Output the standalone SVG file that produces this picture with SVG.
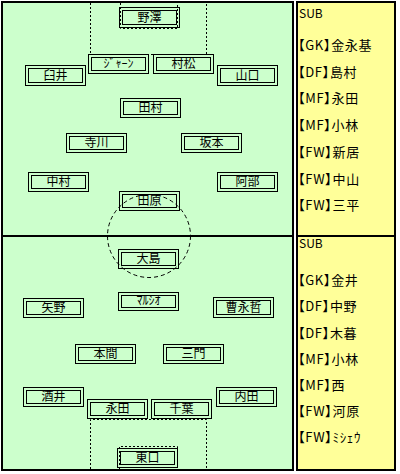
<svg xmlns="http://www.w3.org/2000/svg" width="400" height="474" viewBox="0 0 400 474">
<style>
.t{font-family:"Noto Sans CJK JP","Noto Sans",sans-serif;font-size:12px;fill:#000}
.s{font-feature-settings:"palt";font-size:13px;letter-spacing:0.7px}
.h{font-size:12px;letter-spacing:0}
.n{text-anchor:middle}
.o{fill:none;stroke:#000;stroke-width:1}
.d{fill:none;stroke:#000;stroke-width:1;stroke-dasharray:2 2}
.c{fill:none;stroke:#000;stroke-width:1;stroke-dasharray:4 3}
</style>
<rect x="0" y="0" width="400" height="474" fill="#fff"/>
<g id="field">
<rect x="2" y="2" width="291" height="468" fill="#ccffcc" stroke="#000" stroke-width="2"/>
<line x1="2" y1="236" x2="293" y2="236" stroke="#000" stroke-width="2"/>
</g>
<g id="connectors">
<polyline class="d" points="90.5,3 90.5,54.5 206.5,54.5 206.5,3"/>
<polyline class="d" points="120.5,3 120.5,28.5 177.5,28.5 177.5,3"/>
<polyline class="d" points="90.5,469 90.5,419.5 206.5,419.5 206.5,469"/>
<polyline class="d" points="119.5,469 119.5,446.5 177.5,446.5 177.5,469"/>
<circle class="c" cx="149" cy="236" r="41.5"/>
</g>
<g id="subs">
<rect x="297" y="2" width="98" height="468" fill="#ffff99" stroke="#000" stroke-width="2"/>
<line x1="297" y1="236" x2="395" y2="236" stroke="#000" stroke-width="2"/>
<g class="t s">
<text class="h" x="299" y="18">SUB</text>
<text x="298" y="50">【GK】金永基</text>
<text x="298" y="77">【DF】島村</text>
<text x="298" y="103">【MF】永田</text>
<text x="298" y="130">【MF】小林</text>
<text x="298" y="157">【FW】新居</text>
<text x="298" y="184">【FW】中山</text>
<text x="298" y="210">【FW】三平</text>
<text class="h" x="299" y="248">SUB</text>
<text x="298" y="285">【GK】金井</text>
<text x="298" y="311">【DF】中野</text>
<text x="298" y="338">【DF】木暮</text>
<text x="298" y="364">【MF】小林</text>
<text x="298" y="390">【MF】西</text>
<text x="298" y="416">【FW】河原</text>
<text x="298" y="442">【FW】ﾐｼｪｳ</text>
</g>
</g>
<g id="n-nozawa"><rect class="o" x="119.5" y="7.5" width="60" height="20"/><rect class="o" x="122.5" y="10.5" width="54" height="14"/><text class="t n" x="149.5" y="22">野澤</text></g>
<g id="n-jean"><rect class="o" x="88.5" y="54.5" width="60" height="19"/><rect class="o" x="91.5" y="57.5" width="54" height="13"/><text class="t n" x="118.5" y="68">ｼﾞｬｰﾝ</text></g>
<g id="n-muramatsu"><rect class="o" x="153.5" y="54.5" width="60" height="19"/><rect class="o" x="156.5" y="57.5" width="54" height="13"/><text class="t n" x="183.5" y="68">村松</text></g>
<g id="n-usui"><rect class="o" x="25.5" y="65.5" width="60" height="20"/><rect class="o" x="28.5" y="68.5" width="54" height="14"/><text class="t n" x="55.5" y="80">臼井</text></g>
<g id="n-yamaguchi"><rect class="o" x="217.5" y="65.5" width="60" height="20"/><rect class="o" x="220.5" y="68.5" width="54" height="14"/><text class="t n" x="247.5" y="80">山口</text></g>
<g id="n-tamura"><rect class="o" x="120.5" y="98.5" width="60" height="19"/><rect class="o" x="123.5" y="101.5" width="54" height="13"/><text class="t n" x="150.5" y="112">田村</text></g>
<g id="n-terakawa"><rect class="o" x="66.5" y="133.5" width="60" height="19"/><rect class="o" x="69.5" y="136.5" width="54" height="13"/><text class="t n" x="96.5" y="147">寺川</text></g>
<g id="n-sakamoto"><rect class="o" x="181.5" y="133.5" width="60" height="19"/><rect class="o" x="184.5" y="136.5" width="54" height="13"/><text class="t n" x="211.5" y="147">坂本</text></g>
<g id="n-nakamura"><rect class="o" x="28.5" y="172.5" width="60" height="19"/><rect class="o" x="31.5" y="175.5" width="54" height="13"/><text class="t n" x="58.5" y="186">中村</text></g>
<g id="n-abe"><rect class="o" x="217.5" y="172.5" width="60" height="19"/><rect class="o" x="220.5" y="175.5" width="54" height="13"/><text class="t n" x="247.5" y="186">阿部</text></g>
<g id="n-tahara"><rect class="o" x="119.5" y="191.5" width="60" height="19"/><rect class="o" x="122.5" y="194.5" width="54" height="13"/><text class="t n" x="149.5" y="205">田原</text></g>
<g id="n-oshima"><rect class="o" x="118.5" y="249.5" width="60" height="19"/><rect class="o" x="121.5" y="252.5" width="54" height="13"/><text class="t n" x="148.5" y="263">大島</text></g>
<g id="n-marcio"><rect class="o" x="118.5" y="292.5" width="60" height="18"/><rect class="o" x="121.5" y="295.5" width="54" height="12"/><text class="t n" x="148.5" y="305">ﾏﾙｼｵ</text></g>
<g id="n-yano"><rect class="o" x="23.5" y="298.5" width="60" height="19"/><rect class="o" x="26.5" y="301.5" width="54" height="13"/><text class="t n" x="53.5" y="312">矢野</text></g>
<g id="n-so"><rect class="o" x="213.5" y="297.5" width="60" height="20"/><rect class="o" x="216.5" y="300.5" width="54" height="14"/><text class="t n" x="243.5" y="312">曹永哲</text></g>
<g id="n-homma"><rect class="o" x="75.5" y="344.5" width="60" height="19"/><rect class="o" x="78.5" y="347.5" width="54" height="13"/><text class="t n" x="105.5" y="358">本間</text></g>
<g id="n-mikado"><rect class="o" x="163.5" y="344.5" width="60" height="19"/><rect class="o" x="166.5" y="347.5" width="54" height="13"/><text class="t n" x="193.5" y="358">三門</text></g>
<g id="n-sakai"><rect class="o" x="23.5" y="387.5" width="60" height="19"/><rect class="o" x="26.5" y="390.5" width="54" height="13"/><text class="t n" x="53.5" y="401">酒井</text></g>
<g id="n-uchida"><rect class="o" x="216.5" y="387.5" width="60" height="19"/><rect class="o" x="219.5" y="390.5" width="54" height="13"/><text class="t n" x="246.5" y="401">内田</text></g>
<g id="n-nagata"><rect class="o" x="87.5" y="399.5" width="60" height="19"/><rect class="o" x="90.5" y="402.5" width="54" height="13"/><text class="t n" x="117.5" y="413">永田</text></g>
<g id="n-chiba"><rect class="o" x="151.5" y="399.5" width="60" height="19"/><rect class="o" x="154.5" y="402.5" width="54" height="13"/><text class="t n" x="181.5" y="413">千葉</text></g>
<g id="n-higashiguchi"><rect class="o" x="117.5" y="448.5" width="60" height="19"/><rect class="o" x="120.5" y="451.5" width="54" height="13"/><text class="t n" x="147.5" y="462">東口</text></g>
</svg>
